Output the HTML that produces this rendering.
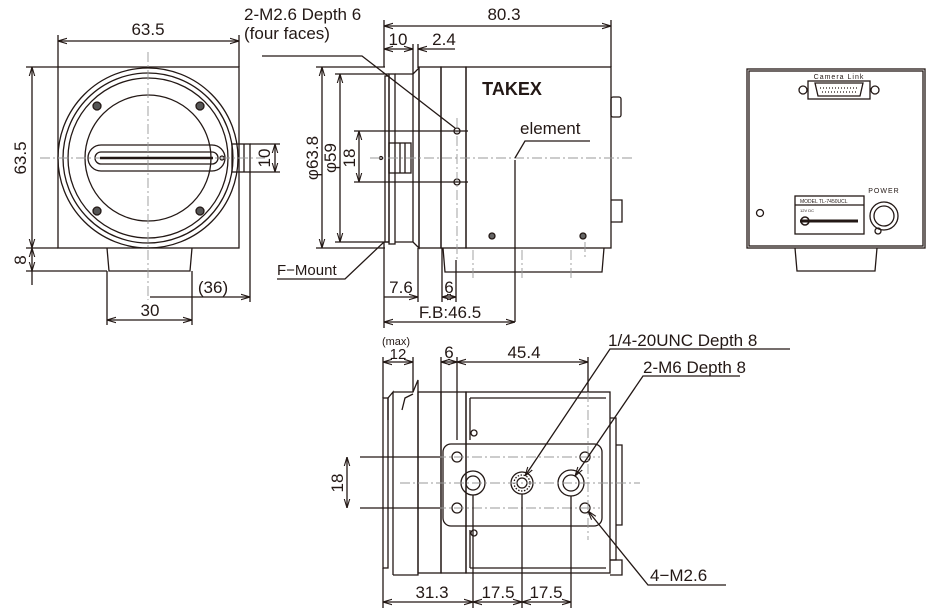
<!DOCTYPE html>
<html><head><meta charset="utf-8"><style>
html,body{margin:0;padding:0;background:#fff}
svg{display:block}
text{font-family:"Liberation Sans",sans-serif;fill:#231815}
</style></head><body>
<svg width="937" height="613" viewBox="0 0 937 613" xmlns="http://www.w3.org/2000/svg">
<defs>
<marker id="a" viewBox="0 0 10 10" refX="10" refY="5" markerWidth="7" markerHeight="7" orient="auto-start-reverse"><path d="M0,2 L10,5 L0,8" fill="none" stroke="#231815" stroke-width="1.2"/></marker>
</defs>
<g stroke="#231815" stroke-width="1.3" fill="none">
<!-- FRONT VIEW -->
<rect x="58" y="67" width="181" height="181"/>
<circle cx="148" cy="158" r="90"/>
<circle cx="148" cy="158" r="85"/>
<circle cx="148" cy="158" r="80"/>
<circle cx="148" cy="158" r="63"/>
<rect x="88" y="145" width="137" height="26" rx="13"/>
<rect x="95" y="152" width="123" height="12" rx="6"/>
<circle cx="97" cy="106" r="4" fill="#555"/><circle cx="200" cy="106" r="4" fill="#555"/>
<circle cx="97" cy="211" r="4" fill="#555"/><circle cx="200" cy="211" r="4" fill="#555"/>
<circle cx="222" cy="158" r="2"/>
<rect x="232" y="144" width="18" height="28"/>
<line x1="244" y1="144" x2="244" y2="172"/>
<path d="M107,248 L109,271 L190,271 L192,248"/>
<g stroke="#999" stroke-dasharray="10,3,2,3" stroke-width="0.9">
<line x1="40" y1="158" x2="265" y2="158"/><line x1="148" y1="52" x2="148" y2="300"/>
</g>
<line x1="100" y1="158" x2="213" y2="158" stroke-width="2.5"/>
<!-- front dims -->
<line x1="58" y1="67" x2="58" y2="35"/><line x1="239" y1="67" x2="239" y2="35"/>
<line x1="58" y1="41" x2="239" y2="41" marker-start="url(#a)" marker-end="url(#a)"/>
<line x1="58" y1="67" x2="26" y2="67"/><line x1="58" y1="248" x2="26" y2="248"/><line x1="107" y1="271" x2="26" y2="271"/>
<line x1="32" y1="67" x2="32" y2="248" marker-start="url(#a)" marker-end="url(#a)"/>
<line x1="32" y1="248" x2="32" y2="271" marker-start="url(#a)" marker-end="url(#a)"/>
<line x1="32" y1="271" x2="32" y2="285"/>
<line x1="250" y1="144" x2="280" y2="144"/><line x1="250" y1="172" x2="280" y2="172"/>
<line x1="275" y1="144" x2="275" y2="172" marker-start="url(#a)" marker-end="url(#a)"/>
<line x1="250" y1="172" x2="250" y2="302"/>
<line x1="150" y1="297" x2="250" y2="297" marker-end="url(#a)"/>
<line x1="107" y1="271" x2="107" y2="325"/><line x1="192" y1="271" x2="192" y2="325"/>
<line x1="107" y1="320" x2="192" y2="320" marker-start="url(#a)" marker-end="url(#a)"/>

<!-- SIDE VIEW -->
<rect x="385" y="76" width="4" height="166"/>
<rect x="389" y="74" width="6" height="170"/>
<path d="M395,74 L413,74 L419,68 L419,248 L413,242 L395,242"/>
<line x1="413" y1="74" x2="413" y2="242"/>
<rect x="419" y="67" width="22" height="181"/>
<rect x="441" y="67" width="25" height="181"/>
<rect x="466" y="67" width="145" height="181"/>
<rect x="389" y="143" width="22" height="30"/><line x1="400" y1="143" x2="400" y2="173"/><line x1="405" y1="143" x2="405" y2="173"/>
<rect x="611" y="97" width="10" height="20" rx="2"/>
<path d="M611,200 L622,200 L622,222 L611,222"/>
<path d="M443,248 L445,272 L602,272 L604,248"/>
<circle cx="457" cy="131" r="3"/><circle cx="457" cy="182" r="3"/>
<circle cx="492" cy="236" r="3" fill="#666"/><circle cx="583" cy="236" r="3" fill="#666"/>
<circle cx="381" cy="158" r="1.5"/>
<g stroke="#999" stroke-dasharray="10,3,2,3" stroke-width="0.9">
<line x1="370" y1="158" x2="635" y2="158"/>
<line x1="457" y1="118" x2="457" y2="260"/>
<line x1="473" y1="250" x2="473" y2="280"/><line x1="522" y1="250" x2="522" y2="280"/><line x1="571" y1="250" x2="571" y2="280"/><line x1="585" y1="242" x2="585" y2="258"/>
</g>
<line x1="515" y1="160" x2="515" y2="322"/>
<polyline points="515,158 525,141 590,141"/>
<polyline points="262,56 362,56 455,128"/>
<line x1="384" y1="67" x2="384" y2="20"/><line x1="611" y1="67" x2="611" y2="20"/>
<line x1="384" y1="26" x2="611" y2="26" marker-start="url(#a)" marker-end="url(#a)"/>
<line x1="413" y1="44" x2="413" y2="74"/><line x1="418" y1="44" x2="418" y2="68"/>
<line x1="384" y1="49" x2="413" y2="49" marker-start="url(#a)" marker-end="url(#a)"/>
<line x1="418" y1="49" x2="455" y2="49" marker-start="url(#a)"/>
<line x1="385" y1="67" x2="316" y2="67"/><line x1="385" y1="248" x2="316" y2="248"/>
<line x1="322" y1="67" x2="322" y2="248" marker-start="url(#a)" marker-end="url(#a)"/>
<line x1="389" y1="74" x2="335" y2="74"/><line x1="389" y1="242" x2="335" y2="242"/>
<line x1="340" y1="74" x2="340" y2="242" marker-start="url(#a)" marker-end="url(#a)"/>
<line x1="468" y1="131" x2="354" y2="131"/><line x1="468" y1="182" x2="354" y2="182"/>
<line x1="359" y1="131" x2="359" y2="182" marker-start="url(#a)" marker-end="url(#a)"/>
<line x1="384" y1="242" x2="384" y2="328"/><line x1="418" y1="248" x2="418" y2="302"/>
<line x1="442" y1="248" x2="442" y2="302"/><line x1="456" y1="260" x2="456" y2="302"/>
<line x1="384" y1="297" x2="418" y2="297" marker-end="url(#a)"/>
<line x1="442" y1="297" x2="456" y2="297" marker-start="url(#a)" marker-end="url(#a)"/>
<line x1="384" y1="322" x2="515" y2="322" marker-start="url(#a)" marker-end="url(#a)"/>
<polyline points="277,279 345,279 384,242"/>

<!-- REAR VIEW -->
<rect x="747" y="69" width="178" height="179"/>
<rect x="749" y="71" width="174" height="175"/>
<path d="M795,248 L797,271 L875,271 L877,248"/>
<rect x="808" y="81" width="62" height="18"/>
<path d="M815,83 L863,83 L860,96 L818,96 Z"/>
<line x1="820" y1="88" x2="858" y2="88" stroke-dasharray="1,2"/>
<line x1="822" y1="92" x2="856" y2="92" stroke-dasharray="1,2"/>
<circle cx="803" cy="90" r="4"/><circle cx="875" cy="90" r="4"/>
<circle cx="884" cy="216" r="14"/><circle cx="884" cy="216" r="10"/>
<circle cx="878" cy="231" r="3"/>
<circle cx="760" cy="213" r="3.5"/>
<rect x="795" y="196" width="69" height="38"/>
<line x1="795" y1="205" x2="864" y2="205"/>
<line x1="800" y1="221" x2="858" y2="221" stroke-width="3"/>
<circle cx="805" cy="221" r="4" stroke-width="1.5"/>

<!-- BOTTOM VIEW -->
<rect x="383" y="398" width="5" height="170"/>
<path d="M388,420 L388,398 L393,392 L393,575"/>
<path d="M393,392 L413,392 L418,380 L418,575 L393,575"/>
<path d="M402,410 L405,398 L413,394"/>
<rect x="418" y="392" width="23" height="181"/>
<rect x="441" y="392" width="25" height="181"/>
<rect x="466" y="392" width="144" height="181"/>
<line x1="470" y1="398" x2="606" y2="398"/>
<line x1="470" y1="398" x2="470" y2="440"/>
<line x1="470" y1="530" x2="470" y2="568"/><line x1="470" y1="568" x2="606" y2="568"/>
<rect x="443" y="444" width="159" height="82" rx="8"/>
<circle cx="473" cy="483" r="12"/><circle cx="473" cy="483" r="7"/>
<circle cx="522" cy="483" r="11"/><circle cx="522" cy="483" r="8" stroke-dasharray="1.5,1.5"/><circle cx="522" cy="483" r="5"/>
<circle cx="571" cy="483" r="13"/><circle cx="571" cy="483" r="8"/>
<circle cx="457" cy="457" r="5"/><circle cx="457" cy="508" r="5"/><circle cx="585" cy="457" r="5"/><circle cx="585" cy="508" r="5"/>
<circle cx="474" cy="433" r="3"/><circle cx="474" cy="533" r="3"/>
<path d="M610,418 L616,418 L616,560 L610,560"/>
<path d="M616,445 L622,445 L622,525 L616,525"/>
<path d="M610,560 L622,560 L622,575 L610,575"/>
<g stroke="#999" stroke-dasharray="10,3,2,3" stroke-width="0.9">
<line x1="400" y1="483" x2="640" y2="483"/>
<line x1="400" y1="457" x2="600" y2="457"/><line x1="400" y1="508" x2="600" y2="508"/>
<line x1="588" y1="392" x2="588" y2="540"/>
</g>
<line x1="360" y1="457" x2="440" y2="457"/><line x1="360" y1="508" x2="440" y2="508"/>
<line x1="347" y1="457" x2="347" y2="508" marker-start="url(#a)" marker-end="url(#a)"/>
<line x1="383" y1="398" x2="383" y2="357"/><line x1="413" y1="392" x2="413" y2="357"/>
<line x1="383" y1="362" x2="413" y2="362" marker-start="url(#a)" marker-end="url(#a)"/>
<line x1="441" y1="392" x2="441" y2="357"/><line x1="457" y1="357" x2="457" y2="440"/>
<line x1="588" y1="357" x2="588" y2="392"/>
<line x1="441" y1="362" x2="457" y2="362" marker-start="url(#a)" marker-end="url(#a)"/>
<line x1="457" y1="362" x2="588" y2="362" marker-start="url(#a)" marker-end="url(#a)"/>
<line x1="383" y1="568" x2="383" y2="608"/>
<line x1="473" y1="495" x2="473" y2="608"/><line x1="522" y1="494" x2="522" y2="608"/><line x1="571" y1="496" x2="571" y2="608"/>
<line x1="383" y1="602" x2="473" y2="602" marker-start="url(#a)" marker-end="url(#a)"/>
<line x1="473" y1="602" x2="522" y2="602" marker-start="url(#a)" marker-end="url(#a)"/>
<line x1="522" y1="602" x2="571" y2="602" marker-start="url(#a)" marker-end="url(#a)"/>
<polyline points="790,349 610,349 525,476" marker-end="url(#a)"/>
<polyline points="740,376 643,376 575,476" marker-end="url(#a)"/>
<polyline points="588,511 648,585 726,585" marker-start="url(#a)"/>
</g>
<!-- TEXT -->
<g font-size="17">
<text x="148" y="35" text-anchor="middle">63.5</text>
<text transform="translate(26,158) rotate(-90)" text-anchor="middle">63.5</text>
<text transform="translate(26,260) rotate(-90)" text-anchor="middle">8</text>
<text transform="translate(270,158) rotate(-90)" text-anchor="middle">10</text>
<text x="213" y="293" text-anchor="middle">(36)</text>
<text x="150" y="316" text-anchor="middle">30</text>
<text x="244" y="20">2-M2.6 Depth 6</text>
<text x="244" y="39">(four faces)</text>
<text x="504" y="20" text-anchor="middle">80.3</text>
<text x="398" y="45" text-anchor="middle">10</text>
<text x="444" y="45" text-anchor="middle">2.4</text>
<text transform="translate(318,158) rotate(-90)" text-anchor="middle">φ63.8</text>
<text transform="translate(336,158) rotate(-90)" text-anchor="middle">φ59</text>
<text transform="translate(355,158) rotate(-90)" text-anchor="middle">18</text>
<text x="520" y="134">element</text>
<text x="401" y="293" text-anchor="middle">7.6</text>
<text x="449" y="293" text-anchor="middle">6</text>
<text x="450" y="318" text-anchor="middle">F.B:46.5</text>
<text x="277" y="275" font-size="15">F−Mount</text>
<text x="449" y="358" text-anchor="middle">6</text>
<text x="524" y="358" text-anchor="middle">45.4</text>
<text x="398" y="359" text-anchor="middle" font-size="15">12</text>
<text transform="translate(343,483) rotate(-90)" text-anchor="middle">18</text>
<text x="432" y="598" text-anchor="middle">31.3</text>
<text x="498" y="598" text-anchor="middle">17.5</text>
<text x="546" y="598" text-anchor="middle">17.5</text>
<text x="608" y="346">1/4-20UNC Depth 8</text>
<text x="643" y="373">2-M6 Depth 8</text>
<text x="650" y="581">4−M2.6</text>
</g>
<text x="396" y="345" text-anchor="middle" font-size="11">(max)</text>
<text x="512" y="95" text-anchor="middle" font-size="18" font-weight="bold">TAKEX</text>
<text x="839" y="79" text-anchor="middle" font-size="7" letter-spacing="1">Camera Link</text>
<text x="884" y="193" text-anchor="middle" font-size="7" letter-spacing="1">POWER</text>
<text x="800" y="203" font-size="5">MODEL TL-7450UCL</text>
<text x="800" y="212" font-size="4">12V DC</text>
</svg>
</body></html>
